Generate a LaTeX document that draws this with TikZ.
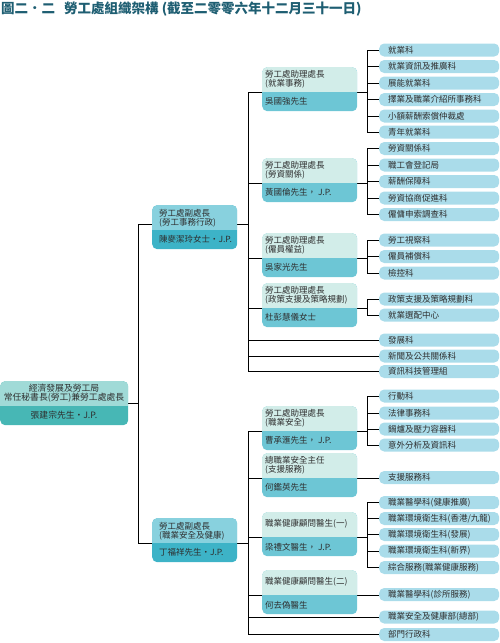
\documentclass[tikz,border=0pt]{standalone}
\usepackage{fontspec}
\newfontfamily\cjk{Noto Sans CJK TC}
\usetikzlibrary{backgrounds}
\definecolor{leafc}{HTML}{AADCEA}
\definecolor{ltwotop}{HTML}{D2EDE9}
\definecolor{ltwobot}{HTML}{6DC6D5}
\definecolor{lonetop}{HTML}{88D1DE}
\definecolor{lonebot}{HTML}{3DB3C7}
\definecolor{roottop}{HTML}{A0DAD7}
\definecolor{rootbot}{HTML}{47B7B5}
\definecolor{textc}{HTML}{2E2E2E}
\definecolor{titlec}{HTML}{1E5E72}
\tikzset{
  txt/.style={font=\cjk\fontsize{8.5}{10}\selectfont, text=textc, inner sep=0pt},
  leafbox/.style={rectangle, rounded corners=5pt, fill=leafc, minimum width=120pt,
    minimum height=13pt, inner sep=0pt, anchor=west},
  twopart/.style 2 args={rectangle, rounded corners=5pt, fill=#2, inner sep=0pt,
    anchor=north west, minimum height=44pt,
    path picture={\fill[#1, sharp corners] (path picture bounding box.north west)
      rectangle ([yshift=-25pt]path picture bounding box.north east);}},
  conn/.style={line width=2.8pt, black, line cap=rect},
}
\newcommand\leafnode[3]{%
  \node[leafbox] (#1) at (379,#2) {};
  \node[txt, anchor=west] (#1t) at (388,#2) {#3};}
\newcommand\lvtwo[5]{%
  \node[twopart={ltwotop}{ltwobot}, minimum width=95pt] (#1) at (262,#2) {};
  \node[txt, anchor=west] (#1a) at (265,{#2+7}) {#3};
  \node[txt, anchor=west] (#1b) at (265,{#2+16.5}) {#4};
  \node[txt, anchor=west] (#1c) at (265,{#2+34}) {#5};}
\newcommand\lvtwosingle[4]{%
  \node[twopart={ltwotop}{ltwobot}, minimum width=95pt] (#1) at (262,#2) {};
  \node[txt, anchor=west] (#1a) at (265,{#2+12}) {#3};
  \node[txt, anchor=west] (#1c) at (265,{#2+35.5}) {#4};}
\newcommand\lvone[5]{%
  \node[twopart={lonetop}{lonebot}, minimum width=85pt] (#1) at (152,#2) {};
  \node[txt, anchor=west] (#1a) at (159,{#2+8}) {#3};
  \node[txt, anchor=west] (#1b) at (159,{#2+18}) {#4};
  \node[txt, anchor=west] (#1c) at (159,{#2+34.5}) {#5};}
\begin{document}
\begin{tikzpicture}[x=1pt,y=-1pt]
\useasboundingbox (0,0) rectangle (500,643);
\node[anchor=west, inner sep=0pt, text=titlec, font=\cjk\bfseries\fontsize{13.5}{15}\selectfont]
  (title) at (1,9) {圖二．二\hspace{9pt}勞工處組織架構 (截至二零零六年十二月三十一日)};

% root
\node[twopart={roottop}{rootbot}, minimum width=128pt] (root) at (0,381) {};
\node[txt, font=\cjk\fontsize{8.8}{10}\selectfont] (roota) at (64,388) {經濟發展及勞工局};
\node[txt, font=\cjk\fontsize{8.8}{10}\selectfont] (rootb) at (64,398) {常任秘書長(勞工)兼勞工處處長};
\node[txt, font=\cjk\fontsize{8.8}{10}\selectfont] (rootc) at (64,415.5) {張建宗先生・J.P.};

% level 1
\lvone{A}{205}{勞工處副處長}{(勞工事務行政)}{陳麥潔玲女士・J.P.}
\lvone{B}{518}{勞工處副處長}{(職業安全及健康)}{丁福祥先生・J.P.}

% level 2
\lvtwo{b1}{67}{勞工處助理處長}{(就業事務)}{吳國強先生}
\lvtwo{b2}{158}{勞工處助理處長}{(勞資關係)}{黃國倫先生， J.P.}
\lvtwo{b3}{233}{勞工處助理處長}{(僱員權益)}{吳家光先生}
\lvtwo{b4}{283}{勞工處助理處長}{(政策支援及策略規劃)}{杜彭慧儀女士}
\lvtwo{b5}{406}{勞工處助理處長}{(職業安全)}{曹承滙先生， J.P.}
\lvtwo{b6}{453}{總職業安全主任}{(支援服務)}{何鑑英先生}
\lvtwosingle{b7}{512}{職業健康顧問醫生(一)}{梁禮文醫生， J.P.}
\lvtwosingle{b8}{570}{職業健康顧問醫生(二)}{何去偽醫生}

% leaves
\leafnode{l1}{50}{就業科}
\leafnode{l2}{66.5}{就業資訊及推廣科}
\leafnode{l3}{83}{展能就業科}
\leafnode{l4}{99.5}{擇業及職業介紹所事務科}
\leafnode{l5}{116}{小額薪酬索償仲裁處}
\leafnode{l6}{132}{青年就業科}
\leafnode{l7}{148.5}{勞資關係科}
\leafnode{l8}{165}{職工會登記局}
\leafnode{l9}{181.5}{薪酬保障科}
\leafnode{l10}{198}{勞資協商促進科}
\leafnode{l11}{214.5}{僱傭申索調查科}
\leafnode{l12}{240}{勞工視察科}
\leafnode{l13}{256.5}{僱員補償科}
\leafnode{l14}{273}{檢控科}
\leafnode{l15}{299}{政策支援及策略規劃科}
\leafnode{l16}{315}{就業選配中心}
\leafnode{l17}{340}{發展科}
\leafnode{l18}{356}{新聞及公共關係科}
\leafnode{l19}{371.5}{資訊科技管理組}
\leafnode{l20}{396}{行動科}
\leafnode{l21}{413}{法律事務科}
\leafnode{l22}{429}{鍋爐及壓力容器科}
\leafnode{l23}{445}{意外分析及資訊科}
\leafnode{l24}{477.5}{支援服務科}
\leafnode{l25}{502.5}{職業醫學科(健康推廣)}
\leafnode{l26}{518.5}{職業環境衛生科(香港/九龍)}
\leafnode{l27}{534.5}{職業環境衛生科(發展)}
\leafnode{l28}{551}{職業環境衛生科(新界)}
\leafnode{l29}{567.5}{綜合服務(職業健康服務)}
\leafnode{l30}{594.5}{職業醫學科(診所服務)}
\leafnode{l31}{617}{職業安全及健康部(總部)}
\leafnode{l32}{634.5}{部門行政科}

% bus positions
\coordinate (xa) at (138,0);
\coordinate (xb) at (248,0);
\coordinate (xc) at (367,0);
\coordinate (Ain) at ([yshift=-19pt]A.north west);
\coordinate (Aout) at ([yshift=-19pt]A.north east);
\coordinate (Bin) at ([yshift=-25pt]B.north west);
\coordinate (Bout) at ([yshift=-25pt]B.north east);
\foreach \b in {b1,b2,b3,b4,b5,b6,b7,b8}{
  \coordinate (\b in) at ([yshift=-25pt]\b.north west);
  \coordinate (\b out) at ([yshift=-25pt]\b.north east);
}

\begin{scope}[on background layer, conn]
  % root to level 1
  \draw (root.east) -- (root.east -| xa);
  \draw (Ain -| xa) -- (Bin -| xa);
  \draw (Ain -| xa) -- (Ain);
  \draw (Bin -| xa) -- (Bin);
  % level 1 A
  \draw (Aout) -- (Aout -| xb);
  \draw (b1in -| xb) -- (l19.west -| xb);
  \foreach \b in {b1,b2,b3,b4}{\draw (\b in -| xb) -- (\b in);}
  \foreach \l in {l17,l18,l19}{\draw (\l.west -| xb) -- (\l.west);}
  % level 1 B
  \draw (Bout) -- (Bout -| xb);
  \draw (b5in -| xb) -- (l32.west -| xb);
  \foreach \b in {b5,b6,b7,b8}{\draw (\b in -| xb) -- (\b in);}
  \foreach \l in {l31,l32}{\draw (\l.west -| xb) -- (\l.west);}
  % level 2 buses
  \draw (b1out) -- (b1out -| xc);
  \draw (l1.west -| xc) -- (l6.west -| xc);
  \foreach \l in {l1,l2,l3,l4,l5,l6}{\draw (\l.west -| xc) -- (\l.west);}
  \draw (b2out) -- (b2out -| xc);
  \draw (l7.west -| xc) -- (l11.west -| xc);
  \foreach \l in {l7,l8,l9,l10,l11}{\draw (\l.west -| xc) -- (\l.west);}
  \draw (b3out) -- (b3out -| xc);
  \draw (l12.west -| xc) -- (l14.west -| xc);
  \foreach \l in {l12,l13,l14}{\draw (\l.west -| xc) -- (\l.west);}
  \draw (b4out) -- (b4out -| xc);
  \draw (l15.west -| xc) -- (l16.west -| xc);
  \foreach \l in {l15,l16}{\draw (\l.west -| xc) -- (\l.west);}
  \draw (b5out) -- (b5out -| xc);
  \draw (l20.west -| xc) -- (l23.west -| xc);
  \foreach \l in {l20,l21,l22,l23}{\draw (\l.west -| xc) -- (\l.west);}
  \draw (b6out) -- (b6out -| l24.west);
  \draw (b7out) -- (b7out -| xc);
  \draw (l25.west -| xc) -- (l29.west -| xc);
  \foreach \l in {l25,l26,l27,l28,l29}{\draw (\l.west -| xc) -- (\l.west);}
  \draw (b8out) -- (b8out -| l30.west);
\end{scope}
\end{tikzpicture}
\end{document}
